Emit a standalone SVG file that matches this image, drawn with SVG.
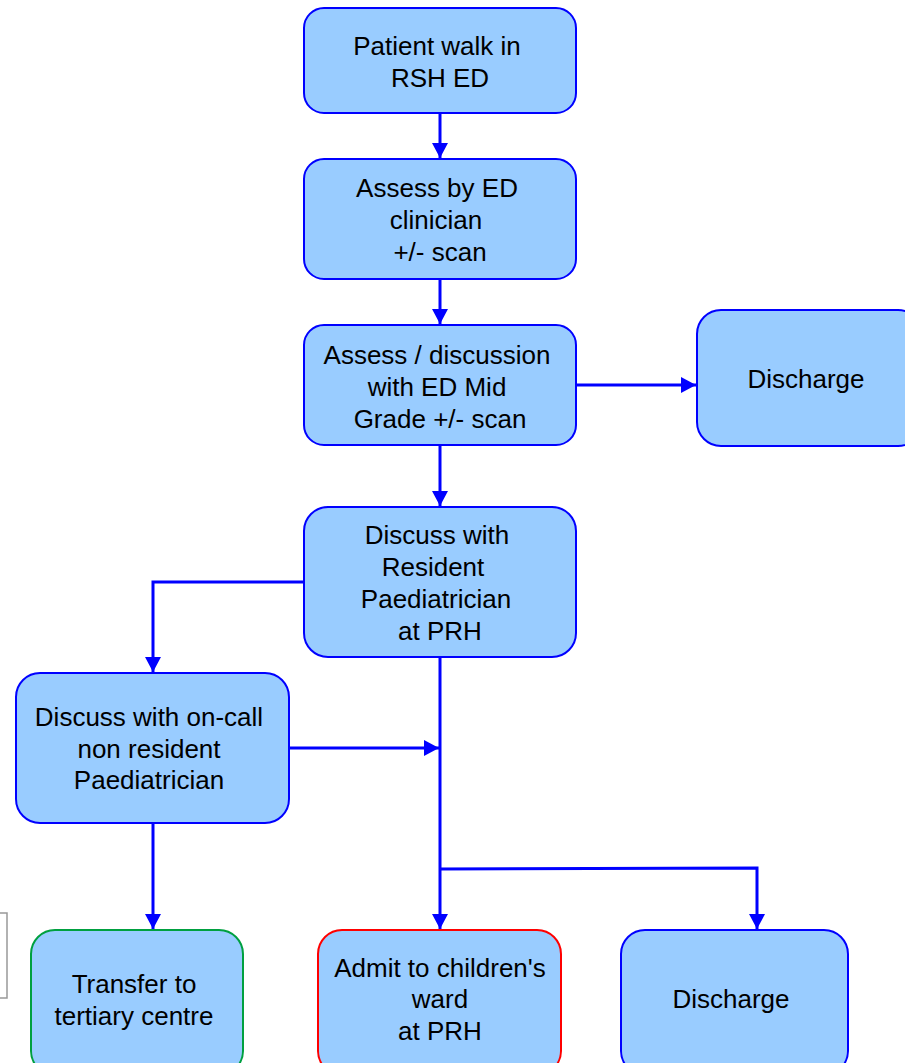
<svg xmlns="http://www.w3.org/2000/svg" width="905" height="1063" viewBox="0 0 905 1063">
<defs>
<style>
.n{fill:#99ccff;stroke:#0000ff;stroke-width:2}
.t{font-family:"Liberation Sans",Arial,sans-serif;font-size:26px;fill:#000;text-anchor:middle}
.c{fill:none;stroke:#0000ff;stroke-width:3}
</style>
<marker id="a" markerWidth="18" markerHeight="18" refX="15" refY="8" orient="auto" markerUnits="userSpaceOnUse">
<path d="M0,0 L15,8 L0,16 Z" fill="#0000ff"/>
</marker>
</defs>
<rect width="905" height="1063" fill="#fff"/>
<rect x="-10" y="913" width="17" height="85" fill="none" stroke="#999" stroke-width="1.5"/>
<g id="connectors">
<path class="c" d="M440,113 V158" marker-end="url(#a)"/>
<path class="c" d="M440,279 V324" marker-end="url(#a)"/>
<path class="c" d="M576,385 H696" marker-end="url(#a)"/>
<path class="c" d="M440,445 V506" marker-end="url(#a)"/>
<path class="c" d="M304,582 H153 V672" marker-end="url(#a)"/>
<path class="c" d="M289,748 H439" marker-end="url(#a)"/>
<path class="c" d="M440,657 V929" marker-end="url(#a)"/>
<path class="c" d="M440,869 L757,868 V929" marker-end="url(#a)"/>
<path class="c" d="M153,823 V929" marker-end="url(#a)"/>
</g>
<g id="n1"><rect class="n" x="304" y="8" width="272" height="105" rx="20"/>
<text class="t" x="437" y="55">Patient walk in</text><text class="t" x="440" y="87">RSH ED</text></g>
<g id="n2"><rect class="n" x="304" y="159" width="272" height="120" rx="20"/>
<text class="t" x="437" y="197">Assess by ED</text><text class="t" x="436" y="229">clinician</text><text class="t" x="440" y="261">+/- scan</text></g>
<g id="n3"><rect class="n" x="304" y="325" width="272" height="120" rx="20"/>
<text class="t" x="437" y="364">Assess / discussion</text><text class="t" x="437" y="396">with ED Mid</text><text class="t" x="440" y="428">Grade +/- scan</text></g>
<g id="n4"><rect class="n" x="697" y="310" width="225" height="136" rx="24"/>
<text class="t" x="806" y="388">Discharge</text></g>
<g id="n5"><rect class="n" x="304" y="507" width="272" height="150" rx="24"/>
<text class="t" x="437" y="544">Discuss with</text><text class="t" x="433" y="576">Resident</text><text class="t" x="436" y="608">Paediatrician</text><text class="t" x="440" y="640">at PRH</text></g>
<g id="n6"><rect class="n" x="16" y="673" width="273" height="150" rx="24"/>
<text class="t" x="149" y="726">Discuss with on-call</text><text class="t" x="149" y="758">non resident</text><text class="t" x="149" y="789">Paediatrician</text></g>
<g id="n7"><rect class="n" x="31" y="930" width="212" height="145" rx="24" style="stroke:#00a040"/>
<text class="t" x="134" y="993">Transfer to</text><text class="t" x="134" y="1025">tertiary centre</text></g>
<g id="n8"><rect class="n" x="318" y="930" width="243" height="145" rx="24" style="stroke:#ff0000"/>
<text class="t" x="440" y="977">Admit to children's</text><text class="t" x="440" y="1008">ward</text><text class="t" x="440" y="1040">at PRH</text></g>
<g id="n9"><rect class="n" x="621" y="930" width="227" height="145" rx="24"/>
<text class="t" x="731" y="1008">Discharge</text></g>
</svg>
